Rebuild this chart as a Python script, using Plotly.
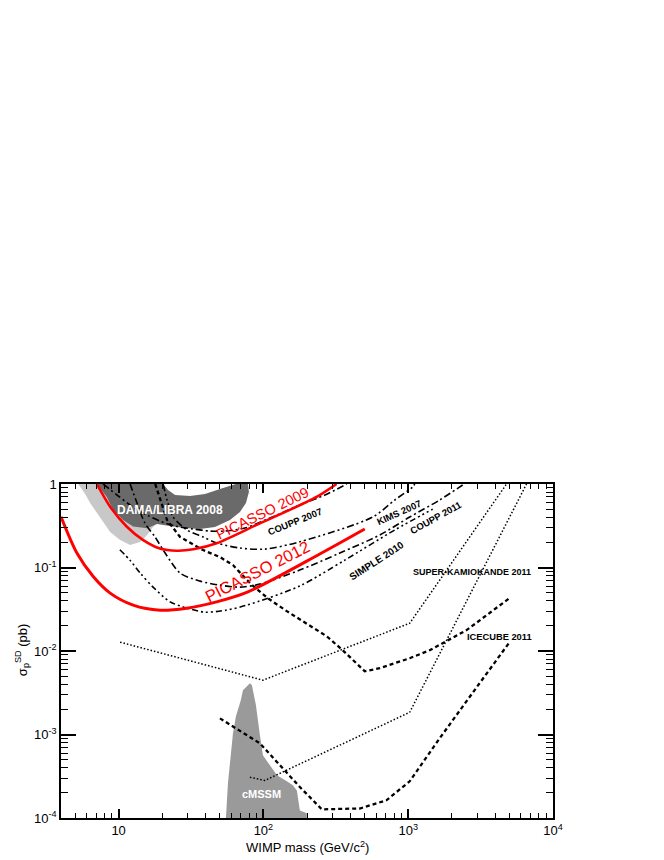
import math
import plotly.graph_objects as go

# ---------------- data (WIMP mass in GeV/c^2, cross section in pb) ----------------
picasso2012_mass = [4.0, 5.15, 6.70, 8.74, 12.6, 19.3, 29.5, 47.5, 78.2, 245, 501]
picasso2012_sigma = [0.405, 0.149, 0.0774, 0.0493, 0.0354, 0.0308, 0.0326, 0.0388, 0.0511, 0.145, 0.289]

picasso2009_mass = [7.07, 8.74, 11.4, 14.8, 19.3, 25.2, 32.8, 47.5, 94.6, 160, 245, 320]
picasso2009_sigma = [1.0, 0.534, 0.308, 0.213, 0.169, 0.159, 0.165, 0.195, 0.338, 0.511, 0.738, 1.0]

coupp2007_mass = [7.82, 9.76, 12.0, 15.7, 19.3, 24.5, 32.8, 42.8, 54.3, 74.6, 111, 178, 266, 377]
coupp2007_sigma = [1.0, 0.738, 0.56, 0.425, 0.36, 0.314, 0.289, 0.273, 0.273, 0.297, 0.391, 0.56, 0.738, 1.0]

kims2007_mass = [20.3, 21.6, 23.8, 29.7, 38.3, 47.8, 68.9, 102, 178, 569, 807, 1074, 1109]
kims2007_sigma = [1.0, 0.643, 0.402, 0.281, 0.232, 0.196, 0.171, 0.166, 0.203, 0.402, 0.643, 0.921, 1.0]

coupp2011_mass = [12.0, 13.4, 15.2, 17.9, 20.9, 26.6, 36.5, 50.1, 68.9, 94.6, 178, 337, 636, 1024, 1649, 2376]
coupp2011_sigma = [1.0, 0.592, 0.34, 0.23, 0.15, 0.0857, 0.0687, 0.0615, 0.0582, 0.0632, 0.0931, 0.149, 0.245, 0.402, 0.643, 0.973]

simple2010_mass = [10.2, 12.0, 14.1, 17.3, 22.7, 29.7, 39.5, 55.1, 76.6, 178, 365, 807, 1476]
simple2010_sigma = [0.163, 0.122, 0.0857, 0.0582, 0.0388, 0.0326, 0.0292, 0.0308, 0.0354, 0.0600, 0.1227, 0.281, 0.50]

superk_soft_mass = [10.24, 99.2, 1024, 4778]
superk_soft_sigma = [0.01275, 0.00447, 0.0215, 1.0]

superk_hard_mass = [80.7, 102.4, 1024, 6565]
superk_hard_sigma = [0.000307, 0.000282, 0.001845, 1.0]

icecube_soft_mass = [17.9, 21.6, 26.6, 38.3, 50.1, 61.6, 80.7, 107, 145, 209, 274, 353, 441, 501, 636, 1024, 1407, 2532, 5012]
icecube_soft_sigma = [1.0, 0.370, 0.2315, 0.1617, 0.1332, 0.1069, 0.065, 0.043, 0.030, 0.0204, 0.015, 0.0102, 0.00714, 0.00572, 0.00622, 0.0082, 0.0102, 0.0178, 0.043]

icecube_hard_mass = [50.1, 94.6, 178.5, 253, 463, 707, 1024, 1649, 3112, 5012]
icecube_hard_sigma = [0.00156, 0.000784, 0.000235, 0.000127, 0.00013, 0.000163, 0.000275, 0.0009, 0.00411, 0.01275]

dama_light_mass = [5.26, 5.87, 6.36, 7.46, 8.74, 10.24, 12.0, 14.07, 15.73, 17.29, 19.33, 14.07, 8.74, 5.26]
dama_light_sigma = [1.0, 0.759, 0.592, 0.402, 0.266, 0.213, 0.186, 0.202, 0.245, 0.305, 0.370, 0.643, 1.0, 1.0]

dama_dark_mass = [7.07, 20.27, 21.95, 24.53, 31.12, 39.51, 50.12, 61.62, 64.61, 78.18, 79.43, 75.75, 68.86,
                  58.75, 46.29, 36.49, 28.75, 22.66, 18.43, 15.73, 12.59, 10.74, 9.17, 8.29, 7.07]
dama_dark_sigma = [1.0, 1.0, 0.847, 0.738, 0.718, 0.759, 0.871, 0.973, 1.0, 1.0, 0.802, 0.592, 0.462,
                   0.370, 0.305, 0.289, 0.297, 0.314, 0.331, 0.295, 0.31, 0.370, 0.488, 0.698, 1.0]

cmssm_mass = [55.1, 56.9, 61.6, 64.6, 69.8, 72.2, 78.2, 80.7, 83.3, 88.8, 94.6, 99.2, 110.9, 123.9,
              145.2, 159.7, 170.2, 178.5, 199.5, 199.5, 55.1]
cmssm_sigma = [0.0001, 0.00026, 0.00103, 0.00165, 0.00257, 0.00339, 0.00389, 0.00411, 0.00389, 0.00224,
               0.000978, 0.000563, 0.000427, 0.000324, 0.000275, 0.000246, 0.000214, 0.000123, 0.000114,
               0.0001, 0.0001]

x_tickvals = [10, 100, 1000, 10000]
x_ticktext = ["10", "10<sup>2</sup>", "10<sup>3</sup>", "10<sup>4</sup>"]
y_tickvals = [1e-4, 1e-3, 1e-2, 1e-1, 1]
y_ticktext = ["10<sup>-4</sup>", "10<sup>-3</sup>", "10<sup>-2</sup>", "10<sup>-1</sup>", "1"]

FONT = "Liberation Sans, Arial, sans-serif"

fig = go.Figure()

def area(xs, ys, color):
    fig.add_trace(go.Scatter(x=xs, y=ys, mode="lines", fill="toself", fillcolor=color,
                             line=dict(width=0, color=color), hoverinfo="skip", showlegend=False))

def curve(xs, ys, color="black", width=1.6, dash="solid", shape="linear"):
    fig.add_trace(go.Scatter(x=xs, y=ys, mode="lines",
                             line=dict(color=color, width=width, dash=dash, shape=shape, smoothing=0.8),
                             hoverinfo="skip", showlegend=False))

area(dama_light_mass, dama_light_sigma, "#c8c8c8")
area(dama_dark_mass, dama_dark_sigma, "#6a6a6a")
area(cmssm_mass, cmssm_sigma, "#9a9a9a")

DASHDOT = "7px,3px,2px,3px"
DASHDOTDOT = "7px,3px,2px,3px,2px,3px"
DASHDOT3 = "6px,3px,2px,3px,2px,3px,2px,3px"

curve(coupp2007_mass, coupp2007_sigma, dash=DASHDOT, shape="spline")
curve(kims2007_mass, kims2007_sigma, dash=DASHDOTDOT, shape="spline")
curve(coupp2011_mass, coupp2011_sigma, dash=DASHDOT, shape="spline")
curve(simple2010_mass, simple2010_sigma, dash=DASHDOT3, shape="spline")
curve(superk_soft_mass, superk_soft_sigma, width=1.5, dash="1.5px,2px")
curve(superk_hard_mass, superk_hard_sigma, width=1.5, dash="1.5px,2px")
curve(icecube_soft_mass, icecube_soft_sigma, width=2.3, dash="4px,3px")
curve(icecube_hard_mass, icecube_hard_sigma, width=2.3, dash="4px,3px")
curve(picasso2009_mass, picasso2009_sigma, color="#ff0000", width=2.6, shape="spline")
curve(picasso2012_mass, picasso2012_sigma, color="#ff0000", width=3.0, shape="spline")

def label(text, m, s, size, color="black", angle=0, bold=True):
    t = "<b>" + text + "</b>" if bold else text
    fig.add_annotation(x=math.log10(m), y=math.log10(s), xref="x", yref="y", text=t,
                       showarrow=False, textangle=angle, xanchor="center", yanchor="middle",
                       font=dict(family=FONT, size=size, color=color))

label("DAMA/LIBRA 2008", 22.8, 0.488, 12, color="white")
label("PICASSO 2009", 99.2, 0.449, 14.5, color="#ff0000", angle=-26, bold=False)
label("PICASSO 2012", 91.6, 0.0905, 16.5, color="#ff0000", angle=-27, bold=False)
label("COUPP 2007", 164.9, 0.360, 9.5, angle=-22)
label("KIMS 2007", 860, 0.462, 9.5, angle=-24)
label("COUPP 2011", 1548, 0.402, 9.5, angle=-29)
label("SIMPLE 2010", 607, 0.1227, 10, angle=-33)
label("SUPER-KAMIOKANDE 2011", 2741, 0.0881, 9)
label("ICECUBE 2011", 4276, 0.01464, 9.3)
label("cMSSM", 97.7, 0.000192, 11, color="white")

# axis titles
fig.add_annotation(x=0.5, y=-0.087, xref="paper", yref="paper", showarrow=False,
                   xanchor="center", yanchor="middle",
                   text="WIMP mass (GeV/c<sup>2</sup>)", font=dict(family=FONT, size=13, color="black"))
fig.add_annotation(x=-0.079, y=0.503, xref="paper", yref="paper", showarrow=False, textangle=-90,
                   xanchor="center", yanchor="middle",
                   text="σ<sub>p</sub><sup>SD</sup> (pb)", font=dict(family=FONT, size=13, color="black"))

x_minor = [d * 10 ** e for e in range(0, 4) for d in range(2, 10) if 4 <= d * 10 ** e <= 10000]
y_minor = [d * 10.0 ** e for e in range(-4, 0) for d in range(2, 10)]

fig.update_xaxes(type="log", range=[math.log10(4.0), 4.0], tickmode="array", tickvals=x_tickvals,
                 ticktext=x_ticktext, ticks="inside", ticklen=9, tickwidth=1.5, tickcolor="black",
                 showline=True, linecolor="black", linewidth=1.5, mirror="allticks", showgrid=False,
                 zeroline=False, automargin=False, tickfont=dict(family=FONT, size=13, color="black"),
                 minor=dict(tickmode="array", tickvals=x_minor, ticks="inside", ticklen=5,
                            tickwidth=1, tickcolor="black", showgrid=False))
fig.update_yaxes(type="log", range=[-4, 0], tickmode="array", tickvals=y_tickvals,
                 ticktext=y_ticktext, ticks="inside", ticklen=15, tickwidth=1.5, tickcolor="black",
                 showline=True, linecolor="black", linewidth=1.5, mirror="allticks", showgrid=False,
                 zeroline=False, automargin=False, tickfont=dict(family=FONT, size=13, color="black"),
                 minor=dict(tickmode="array", tickvals=y_minor, ticks="inside", ticklen=7,
                            tickwidth=1, tickcolor="black", showgrid=False))

# the page body adds an 8 px offset, so margins are shifted by that amount
fig.update_layout(width=664, height=860, margin=dict(l=53, r=119, t=476, b=50),
                  paper_bgcolor="white", plot_bgcolor="white", showlegend=False)

fig.write_html("out.html")
